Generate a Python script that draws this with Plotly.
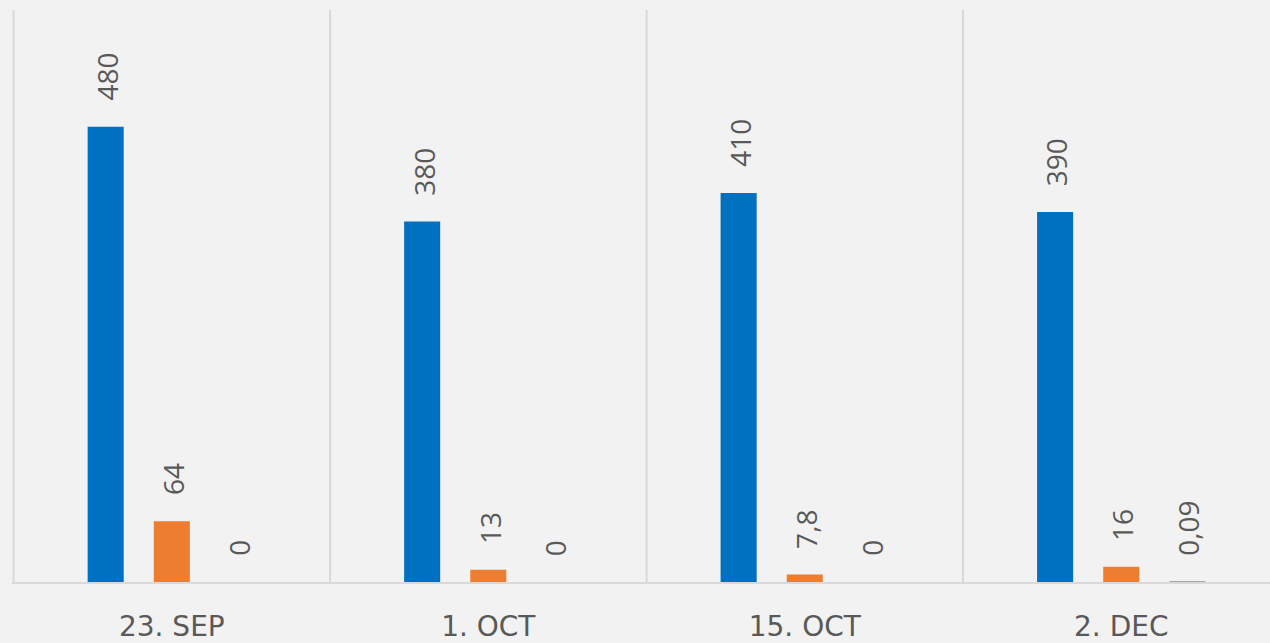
import plotly.graph_objects as go

categories = ["23. SEP", "1. OCT", "15. OCT", "2. DEC"]
series_a = [480, 380, 410, 390]
series_b = [64, 13, 7.8, 16]
series_c = [0, 0, 0, 0.09]
labels_a = ["480", "380", "410", "390"]
labels_b = ["64", "13", "7,8", "16"]
labels_c = ["0", "0", "0", "0,09"]

colors = ["#0070C0", "#ED7D31", "#A5A5A5"]
xs = list(range(len(categories)))

fig = go.Figure()
for vals, col in zip([series_a, series_b, series_c], colors):
    fig.add_trace(go.Bar(x=xs, y=vals, marker=dict(color=col, line=dict(width=0)),
                         hoverinfo="skip"))

offsets = [-65, 1, 67]
for vals, labs, off in zip([series_a, series_b, series_c], [labels_a, labels_b, labels_c], offsets):
    for x, v, t in zip(xs, vals, labs):
        fig.add_annotation(x=x, y=v, text=t, showarrow=False, textangle=-90,
                           xshift=off, yshift=24, yanchor="bottom", xanchor="center",
                           font=dict(family="Open Sans", size=28, color="#595959"))

for b in [-0.5, 0.5, 1.5, 2.5]:
    fig.add_shape(type="line", xref="x", yref="paper", x0=b, x1=b, y0=0, y1=1,
                  line=dict(color="#D9D9D9", width=2), layer="below")

fig.update_layout(
    width=1270, height=643,
    margin=dict(l=12, r=0, t=10, b=61),
    paper_bgcolor="#F2F2F2", plot_bgcolor="#F2F2F2",
    barmode="group", bargap=0.373, bargroupgap=0.455,
    showlegend=False,
    xaxis=dict(range=[-0.505, 3.47], tickvals=xs, ticktext=categories,
               showgrid=False, zeroline=False, showline=True, linecolor="#D9D9D9",
               linewidth=2, ticks="", ticklabelstandoff=18,
               tickfont=dict(family="DejaVu Sans", size=28, color="#595959"),
               fixedrange=True),
    yaxis=dict(range=[0, 603], visible=False, showgrid=False, zeroline=False, fixedrange=True),
)

fig.write_html("out.html", config={"displayModeBar": False},
               post_script="document.body.style.margin='0';document.body.style.overflow='hidden';document.body.style.background='#F2F2F2';")
